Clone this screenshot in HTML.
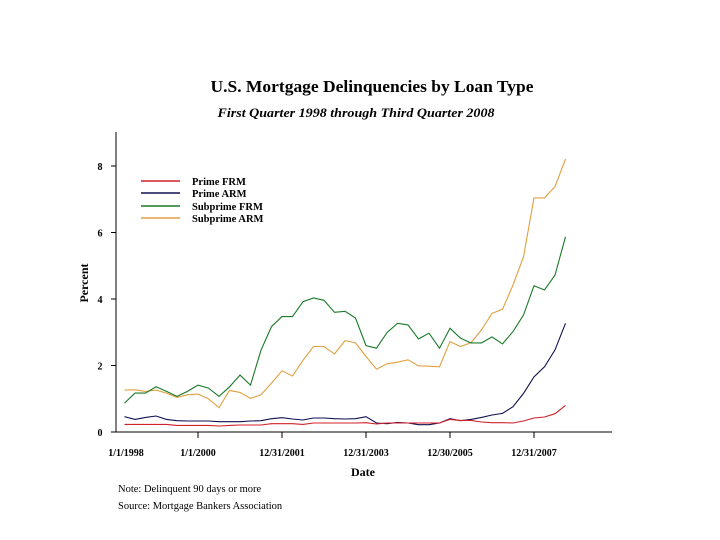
<!DOCTYPE html>
<html><head><meta charset="utf-8"><style>
html,body{margin:0;padding:0;background:#fff}
svg{display:block}
text{font-family:"Liberation Serif",serif;fill:#000}
</style></head><body>
<svg width="720" height="540" viewBox="0 0 720 540">
<text x="372" y="92" text-anchor="middle" font-size="16.5" font-weight="bold" textLength="323" lengthAdjust="spacingAndGlyphs">U.S. Mortgage Delinquencies by Loan Type</text>
<text x="356" y="117" text-anchor="middle" font-size="13" font-weight="bold" font-style="italic" textLength="277" lengthAdjust="spacingAndGlyphs">First Quarter 1998 through Third Quarter 2008</text>
<g id="axes"></g>
<g id="series"></g>
<g>
<line x1="141" y1="181" x2="180" y2="181" stroke="#d0202a" stroke-width="1.5"/>
<line x1="141" y1="193" x2="180" y2="193" stroke="#101050" stroke-width="1.5"/>
<line x1="141" y1="206" x2="180" y2="206" stroke="#1a7a28" stroke-width="1.5"/>
<line x1="141" y1="218" x2="180" y2="218" stroke="#e0a040" stroke-width="1.5"/>
<text x="192" y="185" font-size="10.5" font-weight="bold">Prime FRM</text>
<text x="192" y="197" font-size="10.5" font-weight="bold">Prime ARM</text>
<text x="192" y="210" font-size="10.5" font-weight="bold">Subprime FRM</text>
<text x="192" y="222" font-size="10.5" font-weight="bold">Subprime ARM</text>
</g>
<text transform="translate(88,283) rotate(-90)" text-anchor="middle" font-size="12" font-weight="bold">Percent</text>
<text x="363" y="476" text-anchor="middle" font-size="12" font-weight="bold">Date</text>
<text x="118" y="492" font-size="10.5">Note: Delinquent 90 days or more</text>
<text x="118" y="509" font-size="10.5">Source: Mortgage Bankers Association</text>
</svg>
<script>
const yTicks=[0,2,4,6,8];
const xTickYears=[1998,2000,2002,2004,2006,2008];
const xTickLabels=["1/1/1998","1/1/2000","12/31/2001","12/31/2003","12/30/2005","12/31/2007"];
const primeFRM=[0.23,0.23,0.23,0.23,0.23,0.2,0.2,0.2,0.2,0.18,0.2,0.21,0.21,0.21,0.25,0.25,0.25,0.23,0.27,0.27,0.27,0.27,0.27,0.28,0.24,0.27,0.27,0.27,0.27,0.27,0.27,0.38,0.35,0.35,0.3,0.28,0.28,0.27,0.33,0.42,0.45,0.55,0.8];
const primeARM=[0.46,0.38,0.44,0.48,0.38,0.34,0.33,0.33,0.33,0.31,0.31,0.31,0.33,0.34,0.4,0.43,0.39,0.36,0.42,0.42,0.4,0.39,0.4,0.46,0.27,0.25,0.29,0.27,0.22,0.22,0.27,0.4,0.34,0.38,0.44,0.51,0.56,0.76,1.16,1.66,1.96,2.47,3.27];
const subprimeFRM=[0.87,1.17,1.17,1.36,1.22,1.07,1.22,1.41,1.32,1.07,1.36,1.71,1.41,2.46,3.17,3.47,3.47,3.92,4.03,3.96,3.6,3.63,3.43,2.6,2.52,2.99,3.27,3.22,2.8,2.97,2.52,3.12,2.82,2.68,2.68,2.86,2.65,3.02,3.52,4.4,4.27,4.72,5.87];
const subprimeARM=[1.26,1.27,1.22,1.26,1.17,1.04,1.12,1.14,1.0,0.73,1.25,1.19,1.01,1.12,1.47,1.84,1.68,2.16,2.57,2.57,2.35,2.75,2.68,2.27,1.89,2.05,2.1,2.17,1.99,1.98,1.96,2.72,2.57,2.69,3.07,3.57,3.69,4.42,5.27,7.04,7.04,7.38,8.21];
const NS='http://www.w3.org/2000/svg';
function xYear(y){return 114+(y-1998)*42;}
function xIdx(i){return xYear(1998.25+i*0.25);}
function yVal(v){return 432-v*33.25;}
const axes=document.getElementById('axes');
function mk(tag,attrs,parent){const e=document.createElementNS(NS,tag);for(const k in attrs)e.setAttribute(k,attrs[k]);parent.appendChild(e);return e;}
let l=mk('line',{x1:116,y1:432,x2:612,y2:432,stroke:'#000','stroke-width':1},axes);


l=mk('line',{x1:116,y1:132,x2:116,y2:432,stroke:'#000','stroke-width':1},axes);


yTicks.forEach(v=>{
 const t=mk('line',{x1:111,y1:yVal(v),x2:116,y2:yVal(v),stroke:'#000'},axes);
 
 
 const tx=mk('text',{x:100,y:yVal(v)+4,'text-anchor':'middle','font-size':10,'font-weight':'bold'},axes);
 tx.textContent=v;
 
 
});
xTickYears.forEach((y,i)=>{
 const x=xYear(y);
 if(i>0){const t=mk('line',{x1:x,y1:432,x2:x,y2:438,stroke:'#000'},axes);
 
 }
 const tx=mk('text',{x:i===0?126:x,y:456,'text-anchor':'middle','font-size':10,'font-weight':'bold'},axes);
 tx.textContent=xTickLabels[i];
 
 
});
const sg=document.getElementById('series');
[[subprimeARM,'#e0a040','line-subprime-arm'],[subprimeFRM,'#1a7a28','line-subprime-frm'],[primeARM,'#101050','line-prime-arm'],[primeFRM,'#d0202a','line-prime-frm']].forEach(([d,c,n])=>{
 const p=mk('polyline',{points:d.map((v,i)=>xIdx(i).toFixed(1)+','+yVal(v).toFixed(1)).join(' '),fill:'none',stroke:c,'stroke-width':1.1},sg);
 
 
});
</script>
</body></html>
